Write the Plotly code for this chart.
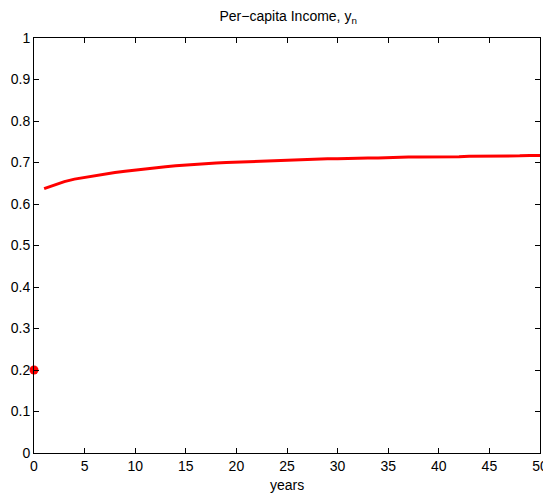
import plotly.graph_objects as go

years = list(range(1, 51))
income = [0.637, 0.646, 0.654, 0.660, 0.664, 0.669, 0.673, 0.676, 0.679, 0.682,
          0.685, 0.688, 0.690, 0.692, 0.694, 0.696, 0.697, 0.699, 0.700, 0.701,
          0.702, 0.703, 0.704, 0.705, 0.706, 0.707, 0.707, 0.708, 0.709, 0.709,
          0.710, 0.710, 0.711, 0.711, 0.712, 0.712, 0.713, 0.713, 0.713, 0.714,
          0.714, 0.714, 0.715, 0.715, 0.715, 0.716, 0.716, 0.716, 0.717, 0.717]
initial_year = [0]
initial_income = [0.2]

x_ticks = list(range(0, 51, 5))
y_ticks = [round(i * 0.1, 1) for i in range(11)]
y_tick_labels = ["0", "0.1", "0.2", "0.3", "0.4", "0.5", "0.6", "0.7", "0.8", "0.9", "1"]

fig = go.Figure()
fig.add_trace(go.Scatter(x=years, y=income, mode="lines",
                         line=dict(color="red", width=3), showlegend=False))
fig.add_trace(go.Scatter(x=initial_year, y=initial_income, mode="markers",
                         marker=dict(color="red", size=9), cliponaxis=False,
                         showlegend=False))

font = dict(family="Liberation Sans, Arial, sans-serif", size=14, color="black")
axis_common = dict(showline=True, linecolor="black", linewidth=1, mirror="ticks",
                   ticks="inside", ticklen=5, tickcolor="black", showgrid=False,
                   zeroline=False, tickfont=font, automargin=False)

# page body adds an 8px offset; figure is sized/margined to compensate
fig.update_layout(
    width=543, height=486,
    margin=dict(l=26, r=11, t=30, b=41),
    paper_bgcolor="white", plot_bgcolor="white",
    font=font,
    title=dict(text="Per\u2212capita Income, y<sub>n</sub>", x=0.516, xanchor="center",
               y=0.983, yanchor="middle", font=font),
    xaxis=dict(range=[0, 50], tickvals=x_ticks, **axis_common),
    yaxis=dict(range=[0, 1], tickvals=y_ticks, ticktext=y_tick_labels, **axis_common),
    annotations=[dict(text="years", x=0.5, y=-0.078, xref="paper", yref="paper",
                      xanchor="center", yanchor="middle", showarrow=False, font=font)],
)

fig.write_html("out.html")
